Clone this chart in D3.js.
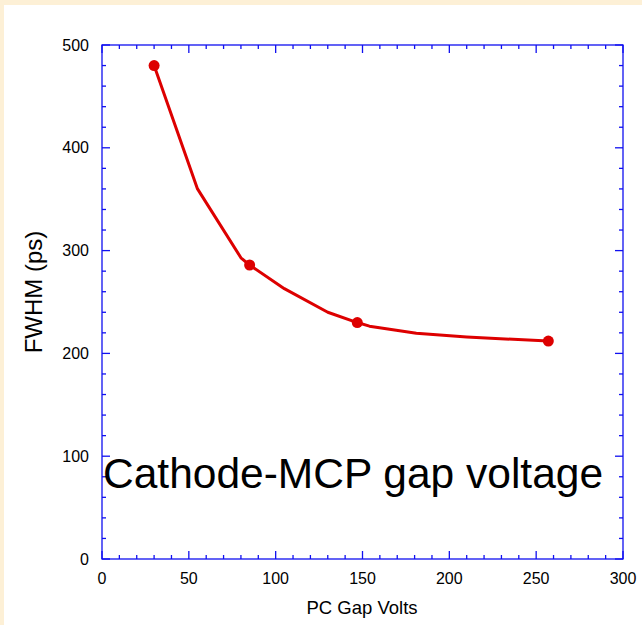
<!DOCTYPE html>
<html>
<head>
<meta charset="utf-8">
<script src="https://cdn.jsdelivr.net/npm/d3@7"></script>
<style>
body { margin: 0; background: #fdf0d6; }
svg { display: block; }
</style>
</head>
<body>
<script>
// curve through the measured points (volts, FWHM ps)
var curveX = [30, 55, 80, 85, 105, 130, 147, 154, 181, 210, 257];
var curveY = [480, 360, 293, 286, 263, 240, 230, 226.5, 219.5, 216, 212];
// measured points shown with markers
var pointX = [30, 85, 147, 257];
var pointY = [480, 286, 230, 212];

var xTicks = [0, 50, 100, 150, 200, 250, 300];
var yTicks = [0, 100, 200, 300, 400, 500];

var w = 642, h = 625;
var plotLeft = 102, plotRight = 623, plotTop = 45, plotBottom = 559;

var svg = d3.select("body").append("svg").attr("width", w).attr("height", h);

// cream border, white panel
svg.append("rect").attr("x", 0).attr("y", 0).attr("width", w).attr("height", h).attr("fill", "#fdf0d6");
svg.append("rect").attr("x", 4).attr("y", 5).attr("width", w - 4).attr("height", h - 5).attr("fill", "#ffffff");

var xScale = d3.scaleLinear().domain([0, 300]).range([plotLeft, plotRight]);
var yScale = d3.scaleLinear().domain([0, 500]).range([plotBottom, plotTop]);

var axisColor = "#1010f0";

// frame
svg.append("rect")
.attr("x", plotLeft).attr("y", plotTop)
.attr("width", plotRight - plotLeft).attr("height", plotBottom - plotTop)
.attr("fill", "none").attr("stroke", axisColor).attr("stroke-width", 1.3);

// ticks, all pointing inward
var xMinor = d3.range(0, 301, 10);
var yMinor = d3.range(0, 501, 20);
function tickLen(v, step) { return v % step === 0 ? 8 : 4; }

var g = svg.append("g").attr("stroke", axisColor).attr("stroke-width", 1.3);
xMinor.forEach(function(v){
    var x = xScale(v), l = tickLen(v, 50);
    g.append("line").attr("x1", x).attr("x2", x).attr("y1", plotBottom).attr("y2", plotBottom - l);
    g.append("line").attr("x1", x).attr("x2", x).attr("y1", plotTop).attr("y2", plotTop + l);
});
yMinor.forEach(function(v){
    var y = yScale(v), l = tickLen(v, 100);
    g.append("line").attr("x1", plotLeft).attr("x2", plotLeft + l).attr("y1", y).attr("y2", y);
    g.append("line").attr("x1", plotRight).attr("x2", plotRight - l).attr("y1", y).attr("y2", y);
});

// tick labels
svg.selectAll("text.xt").data(xTicks).enter().append("text")
.attr("class", "xt")
.text(function(d){ return d; })
.attr("x", function(d){ return xScale(d); })
.attr("y", 584)
.attr("font-family", "Liberation Sans, Arial, sans-serif")
.attr("font-size", "16px")
.attr("text-anchor", "middle");

svg.selectAll("text.yt").data(yTicks).enter().append("text")
.attr("class", "yt")
.text(function(d){ return d; })
.attr("x", 89)
.attr("y", function(d){ return yScale(d) + 5.5; })
.attr("font-family", "Liberation Sans, Arial, sans-serif")
.attr("font-size", "16px")
.attr("text-anchor", "end");

// axis titles
svg.append("text").text("PC Gap Volts")
.attr("x", 362).attr("y", 614)
.attr("font-family", "Liberation Sans, Arial, sans-serif")
.attr("font-size", "18.5px")
.attr("text-anchor", "middle");

svg.append("text").text("FWHM (ps)")
.attr("transform", "translate(42,292) rotate(-90)")
.attr("font-family", "Liberation Sans, Arial, sans-serif")
.attr("font-size", "24px")
.attr("text-anchor", "middle");

// curve
var line = d3.line()
.x(function(d, i){ return xScale(curveX[i]); })
.y(function(d, i){ return yScale(curveY[i]); });

svg.append("path")
.attr("d", line(curveX))
.attr("fill", "none")
.attr("stroke", "#dd0000")
.attr("stroke-width", 3)
.attr("stroke-linejoin", "round");

svg.selectAll("circle").data(pointX).enter().append("circle")
.attr("cx", function(d){ return xScale(d); })
.attr("cy", function(d, i){ return yScale(pointY[i]); })
.attr("r", 5.5)
.attr("fill", "#dd0000");

// annotation
svg.append("text").text("Cathode-MCP gap voltage")
.attr("x", 103).attr("y", 488)
.attr("font-family", "Liberation Sans, Arial, sans-serif")
.attr("font-size", "42.5px");
</script>
</body>
</html>
